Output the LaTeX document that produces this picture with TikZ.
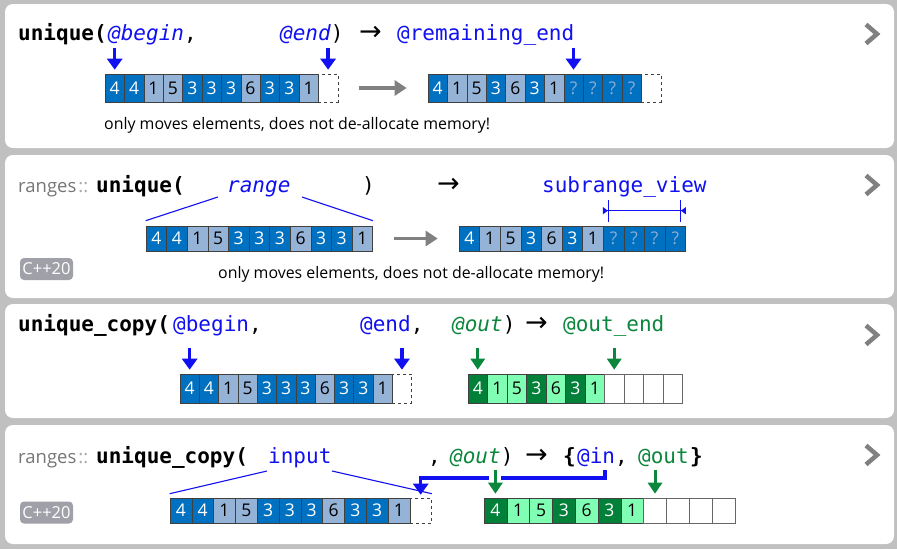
\documentclass[tikz,border=0pt]{standalone}
\usepackage{fontspec}
\setmainfont{Open Sans}
\setmonofont{DejaVu Sans Mono}
\newfontfamily\symfont{DejaVu Sans}
\usetikzlibrary{arrows.meta}

\definecolor{codeblue}{RGB}{16,16,240}
\definecolor{codegreen}{RGB}{10,135,60}
\definecolor{cdk}{RGB}{0,112,192}
\definecolor{clt}{RGB}{149,179,215}
\definecolor{cq}{RGB}{140,172,212}
\definecolor{gdk}{RGB}{0,128,56}
\definecolor{glt}{RGB}{128,255,180}
\definecolor{bggray}{RGB}{192,192,192}
\definecolor{midgray}{RGB}{128,128,128}
\definecolor{nsgray}{RGB}{118,118,118}
\definecolor{dotgray}{RGB}{170,170,170}
\definecolor{badgegray}{RGB}{160,160,168}

\newcommand\codefont{\fontsize{21}{25}\selectfont\ttfamily}
\newcommand\arrowfont{\fontsize{27}{30}\selectfont\symfont}
\newcommand\nsfont{\fontsize{18.5}{21}\selectfont}
\newcommand\notefont{\fontsize{15.9}{18}\selectfont}
\newcommand\cellfont{\fontsize{17.5}{19}\selectfont}

\tikzset{
  code/.style={anchor=base west, inner sep=0pt, font=\codefont},
  note/.style={anchor=base west, inner sep=0pt, font=\notefont},
  cell/.style={draw=black!75, line width=0.6pt, inner sep=0pt, font=\cellfont},
  dk/.style={fill=cdk, text=white},
  lt/.style={fill=clt, text=black},
  qm/.style={fill=cdk, text=cq},
  gd/.style={fill=gdk, text=white},
  gl/.style={fill=glt, text=black},
  wh/.style={fill=white, draw=black!60},
  spare/.style={fill=white, dashed, draw=black!75},
  ptr/.style={draw=codeblue, line width=3.4pt, -{Triangle[length=11pt,width=15pt]}},
  outptr/.style={draw=codegreen, line width=3pt, -{Triangle[length=11pt,width=14pt]}},
  halo/.style={preaction={draw=white, line width=12pt, arrows=-}},
  move/.style={draw=midgray, line width=3.2pt, -{Triangle[length=12pt,width=15pt]}, shorten <=21pt, shorten >=21pt},
  span/.style={draw=codeblue, line width=1.1pt},
  panel/.style={fill=white, rounded corners=8pt},
  chev/.style={draw=midgray, line width=4.5pt},
  badge/.style={fill=badgegray, text=white, rounded corners=4pt, minimum width=53pt, minimum height=22pt, inner sep=0pt, font=\fontsize{16.5}{18}\selectfont},
}

\begin{document}
\begin{tikzpicture}[x=1pt, y=-1pt]
  \def\srcvals{4/dk,4/dk,1/lt,5/lt,3/dk,3/dk,3/dk,6/lt,3/dk,3/dk,1/lt}
  \def\uniqvals{4/dk,1/lt,5/lt,3/dk,6/lt,3/dk,1/lt,?/qm,?/qm,?/qm,?/qm}
  \def\copyvals{4/gd,1/gl,5/gl,3/gd,6/gl,3/gd,1/gl,/wh,/wh,/wh,/wh}

  % Background and panels.
  \fill[bggray] (0,0) rectangle (897,549);
  \fill[panel] (5,4) rectangle (894,148);
  \fill[panel] (5,155) rectangle (894,298);
  \fill[panel] (5,304) rectangle (894,418);
  \fill[panel] (5,425) rectangle (894,544);
  \foreach \y in {34, 185, 335, 455} {
    \draw[chev] (866,{\y-9.5}) -- (877,\y) -- (866,{\y+9.5});
  };

  % Panel 1: unique(@begin, @end).
  \node[code] (p1fn) at (18,40) {\textbf{unique(}};
  \node[code] (p1beg) at (108,40) {\textcolor{codeblue}{\itshape @begin},};
  \node[code] (p1end) at (280,40) {\textcolor{codeblue}{\itshape @end})};
  \node[code, font=\arrowfont] (p1arr) at (359,40) {→};
  \node[code, text=codeblue] (p1ret) at (397,40) {@remaining\_end};
  \def\cw{19.4} \def\ch{28}
  \node[cell, spare, minimum width=\cw, minimum height=\ch] (p1aend) at ({105+11.5*\cw}, 88) {};
  \foreach \v/\s [count=\i] in \srcvals {
    \node[cell, \s, minimum width=\cw, minimum height=\ch] (p1a\i) at ({105+(\i-0.5)*\cw}, 88) {\v};
  };
  \node[cell, spare, minimum width=\cw, minimum height=\ch] (p1bend) at ({428+11.5*\cw}, 88) {};
  \foreach \v/\s [count=\i] in \uniqvals {
    \node[cell, \s, minimum width=\cw, minimum height=\ch] (p1b\i) at ({428+(\i-0.5)*\cw}, 88) {\v};
  };
  \draw[move] (p1aend.east) -- (p1b1.west);
  \foreach \n in {p1a1, p1aend, p1b8} {
    \draw[ptr] ([yshift=26pt]\n.north) -- ([yshift=4pt]\n.north);
  };
  \node[note] (p1note) at (104,129) {only moves elements, does not de-allocate memory!};

  % Panel 2: ranges::unique(range).
  \node[code, font=\nsfont, text=nsgray] (p2ns) at (18,192) {ranges\hspace{2pt}\textcolor{dotgray}{::}};
  \node[code] (p2fn) at (96,192) {\textbf{unique(}};
  \node[code, text=codeblue] (p2rng) at (227,192) {\itshape range};
  \node[code] (p2cl) at (362,192) {)};
  \node[code, font=\arrowfont] (p2arr) at (437,192) {→};
  \node[code, text=codeblue] (p2ret) at (542,192) {subrange\_view};
  \def\cw{20.6} \def\ch{25}
  \foreach \v/\s [count=\i] in \srcvals {
    \node[cell, \s, minimum width=\cw, minimum height=\ch] (p2a\i) at ({146+(\i-0.5)*\cw}, 238.5) {\v};
  };
  \foreach \v/\s [count=\i] in \uniqvals {
    \node[cell, \s, minimum width=\cw, minimum height=\ch] (p2b\i) at ({459+(\i-0.5)*\cw}, 238.5) {\v};
  };
  \draw[move] (p2a11.east) -- (p2b1.west);
  \coordinate (p2rl) at (218,197);
  \coordinate (p2rr) at (302,197);
  \draw[span] (p2rl) -- ([yshift=5pt]p2a1.north west);
  \draw[span] (p2rr) -- ([yshift=5pt]p2a11.north east);
  \coordinate (p2sl) at ([yshift=15pt]p2b8.north west);
  \coordinate (p2sr) at ([yshift=15pt]p2b11.north east);
  \draw[span, {Triangle[length=5pt,width=7pt,reversed] Bar[width=22pt]}-{Bar[width=22pt] Triangle[length=5pt,width=7pt,reversed]}] (p2sl) -- (p2sr);
  \node[badge] (p2std) at (46.5,269) {C++20};
  \node[note] (p2note) at (218,278) {only moves elements, does not de-allocate memory!};

  % Panel 3: unique_copy(@begin, @end, @out).
  \node[code] (p3fn) at (18,331) {\textbf{unique\_copy(}};
  \node[code] (p3beg) at (173,331) {\textcolor{codeblue}{@begin},};
  \node[code] (p3end) at (360,331) {\textcolor{codeblue}{@end},};
  \node[code] (p3out) at (452,331) {\textcolor{codegreen}{\itshape @out})};
  \node[code, font=\arrowfont] (p3arr) at (525,331) {→};
  \node[code, text=codegreen] (p3ret) at (563,331) {@out\_end};
  \def\cw{19.3} \def\ch{29}
  \node[cell, spare, minimum width=\cw, minimum height=\ch] (p3aend) at ({180+11.5*\cw}, 388.5) {};
  \foreach \v/\s [count=\i] in \srcvals {
    \node[cell, \s, minimum width=\cw, minimum height=\ch] (p3a\i) at ({180+(\i-0.5)*\cw}, 388.5) {\v};
  };
  \def\cw{19.5}
  \foreach \v/\s [count=\i] in \copyvals {
    \node[cell, \s, minimum width=\cw, minimum height=\ch] (p3b\i) at ({468+(\i-0.5)*\cw}, 388.5) {\v};
  };
  \foreach \n in {p3a1, p3aend} {
    \draw[ptr] ([yshift=26pt]\n.north) -- ([yshift=4pt]\n.north);
  };
  \foreach \n in {p3b1, p3b8} {
    \draw[outptr] ([yshift=26pt]\n.north) -- ([yshift=4pt]\n.north);
  };

  % Panel 4: ranges::unique_copy(input, @out).
  \node[code, font=\nsfont, text=nsgray] (p4ns) at (18,463) {ranges\hspace{2pt}\textcolor{dotgray}{::}};
  \node[code] (p4fn) at (96,463) {\textbf{unique\_copy(}};
  \node[code, text=codeblue] (p4in) at (268,463) {input};
  \node[code] (p4cm) at (428,463) {,};
  \node[code] (p4out) at (450,463) {\textcolor{codegreen}{\itshape @out})};
  \node[code, font=\arrowfont] (p4arr) at (525,463) {→};
  \node[code] (p4lb) at (563,463) {\textbf{\{}};
  \node[code] (p4rin) at (577,463) {\textcolor{codeblue}{@in},};
  \node[code, text=codegreen] (p4rout) at (638,463) {@out};
  \node[code] (p4rb) at (690,463) {\textbf{\}}};
  \def\cw{21.8} \def\ch{25}
  \node[cell, spare, minimum width=\cw, minimum height=\ch] (p4aend) at ({170+11.5*\cw}, 510.5) {};
  \foreach \v/\s [count=\i] in \srcvals {
    \node[cell, \s, minimum width=\cw, minimum height=\ch] (p4a\i) at ({170+(\i-0.5)*\cw}, 510.5) {\v};
  };
  \def\cw{22.8}
  \foreach \v/\s [count=\i] in \copyvals {
    \node[cell, \s, minimum width=\cw, minimum height=\ch] (p4b\i) at ({484+(\i-0.5)*\cw}, 510.5) {\v};
  };
  \coordinate (p4il) at (267,471);
  \coordinate (p4ir) at (332,471);
  \draw[span] (p4il) -- ([yshift=4pt]p4a1.north west);
  \draw[span] (p4ir) -- ([yshift=4pt]p4aend.north east);
  \coordinate (p4ret) at (605,470);
  \draw[ptr] (p4ret) -- ++(0,8) -| ([yshift=3pt]p4aend.north);
  \foreach \n in {p4b1, p4b8} {
    \draw[outptr, halo] ([yshift=28pt]\n.north) -- ([yshift=4pt]\n.north);
  };
  \node[badge] (p4std) at (46.5,512.5) {C++20};
\end{tikzpicture}
\end{document}
